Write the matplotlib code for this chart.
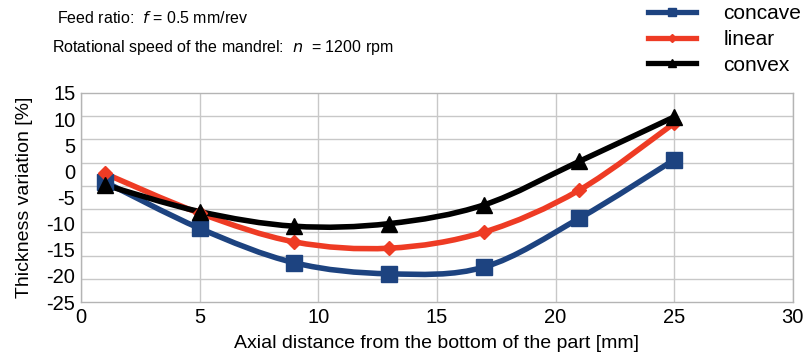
import numpy as np
import matplotlib
matplotlib.use("Agg")
import matplotlib.pyplot as plt
from matplotlib.path import Path
from matplotlib.patches import PathPatch
from matplotlib.lines import Line2D

# Data
distance = [1, 5, 9, 13, 17, 21, 25]
concave = [-2.0, -10.9, -17.5, -19.6, -18.3, -9.0, 2.2]
linear = [-0.4, -8.0, -13.5, -14.7, -11.6, -3.6, 9.2]
convex = [-2.6, -7.7, -10.5, -10.0, -6.4, 1.9, 10.4]

series = [
    ("concave", concave, "#1d4380", "s", 11),
    ("linear", linear, "#ee3b24", "D", 7),
    ("convex", convex, "black", "^", 11),
]

plt.rcParams['font.family'] = ['Liberation Sans', 'DejaVu Sans']
plt.rcParams['axes.unicode_minus'] = False


def smooth_path(xs, ys):
    # Catmull-Rom segments as cubic Bezier curves (Excel-like smoothed line)
    pts = np.column_stack([xs, ys]).astype(float)
    n = len(pts)
    verts = [pts[0]]
    codes = [Path.MOVETO]
    for i in range(n - 1):
        p0 = pts[i - 1] if i > 0 else pts[i]
        p1 = pts[i]
        p2 = pts[i + 1]
        p3 = pts[i + 2] if i + 2 < n else pts[i + 1]
        verts += [p1 + (p2 - p0) / 6, p2 - (p3 - p1) / 6, p2]
        codes += [Path.CURVE4] * 3
    return Path(verts, codes)


fig = plt.figure(figsize=(8.09, 3.6), dpi=100)
ax = fig.add_axes([0.100, 0.161, 0.880, 0.581])

for name, vals, color, marker, ms in series:
    ax.add_patch(PathPatch(smooth_path(distance, vals), fill=False,
                           edgecolor=color, lw=4.0, capstyle='round', zorder=3))
    ax.plot(distance, vals, linestyle='none', marker=marker, markersize=ms,
            color=color, zorder=4)

ax.set_xlim(0, 30)
ax.set_ylim(-25, 15)
ax.set_xticks(range(0, 31, 5))
ax.set_yticks(range(-25, 16, 5))
# gridlines in the reference are spaced independently from the labels
ax.set_yticks(np.linspace(-25, 15, 10)[1:-1], minor=True)
ax.grid(False)
ax.grid(True, which='minor', axis='y', color='#c8c8c8', lw=1)
ax.grid(True, which='major', axis='x', color='#c8c8c8', lw=1)
ax.tick_params(which='both', length=0, labelsize=14.5, colors='black')
ax.tick_params(axis='x', pad=4)
ax.tick_params(axis='y', pad=4)
for s in ax.spines.values():
    s.set_color('#b4b4b4')
    s.set_linewidth(1)

ax.set_xlabel('Axial distance from the bottom of the part [mm]', fontsize=14, labelpad=6)
ax.set_ylabel('Thickness variation [%]', fontsize=14, labelpad=10)

fig.text(0.070, 0.95, 'Feed ratio:  $f$ = 0.5 mm/rev', fontsize=11.5, va='center')
fig.text(0.064, 0.868, 'Rotational speed of the mandrel:  $n$  = 1200 rpm', fontsize=11.5, va='center')

handles = [Line2D([], [], color=c, lw=3.8, marker=m, markersize=ms * 0.55)
           for _, _, c, m, ms in series]
fig.legend(handles, [s[0] for s in series], loc='upper left',
           bbox_to_anchor=(0.778, 1.04), frameon=False, fontsize=15,
           handlelength=2.3, handletextpad=1.3, labelspacing=0.32)

fig.savefig('out.png', dpi=100)
